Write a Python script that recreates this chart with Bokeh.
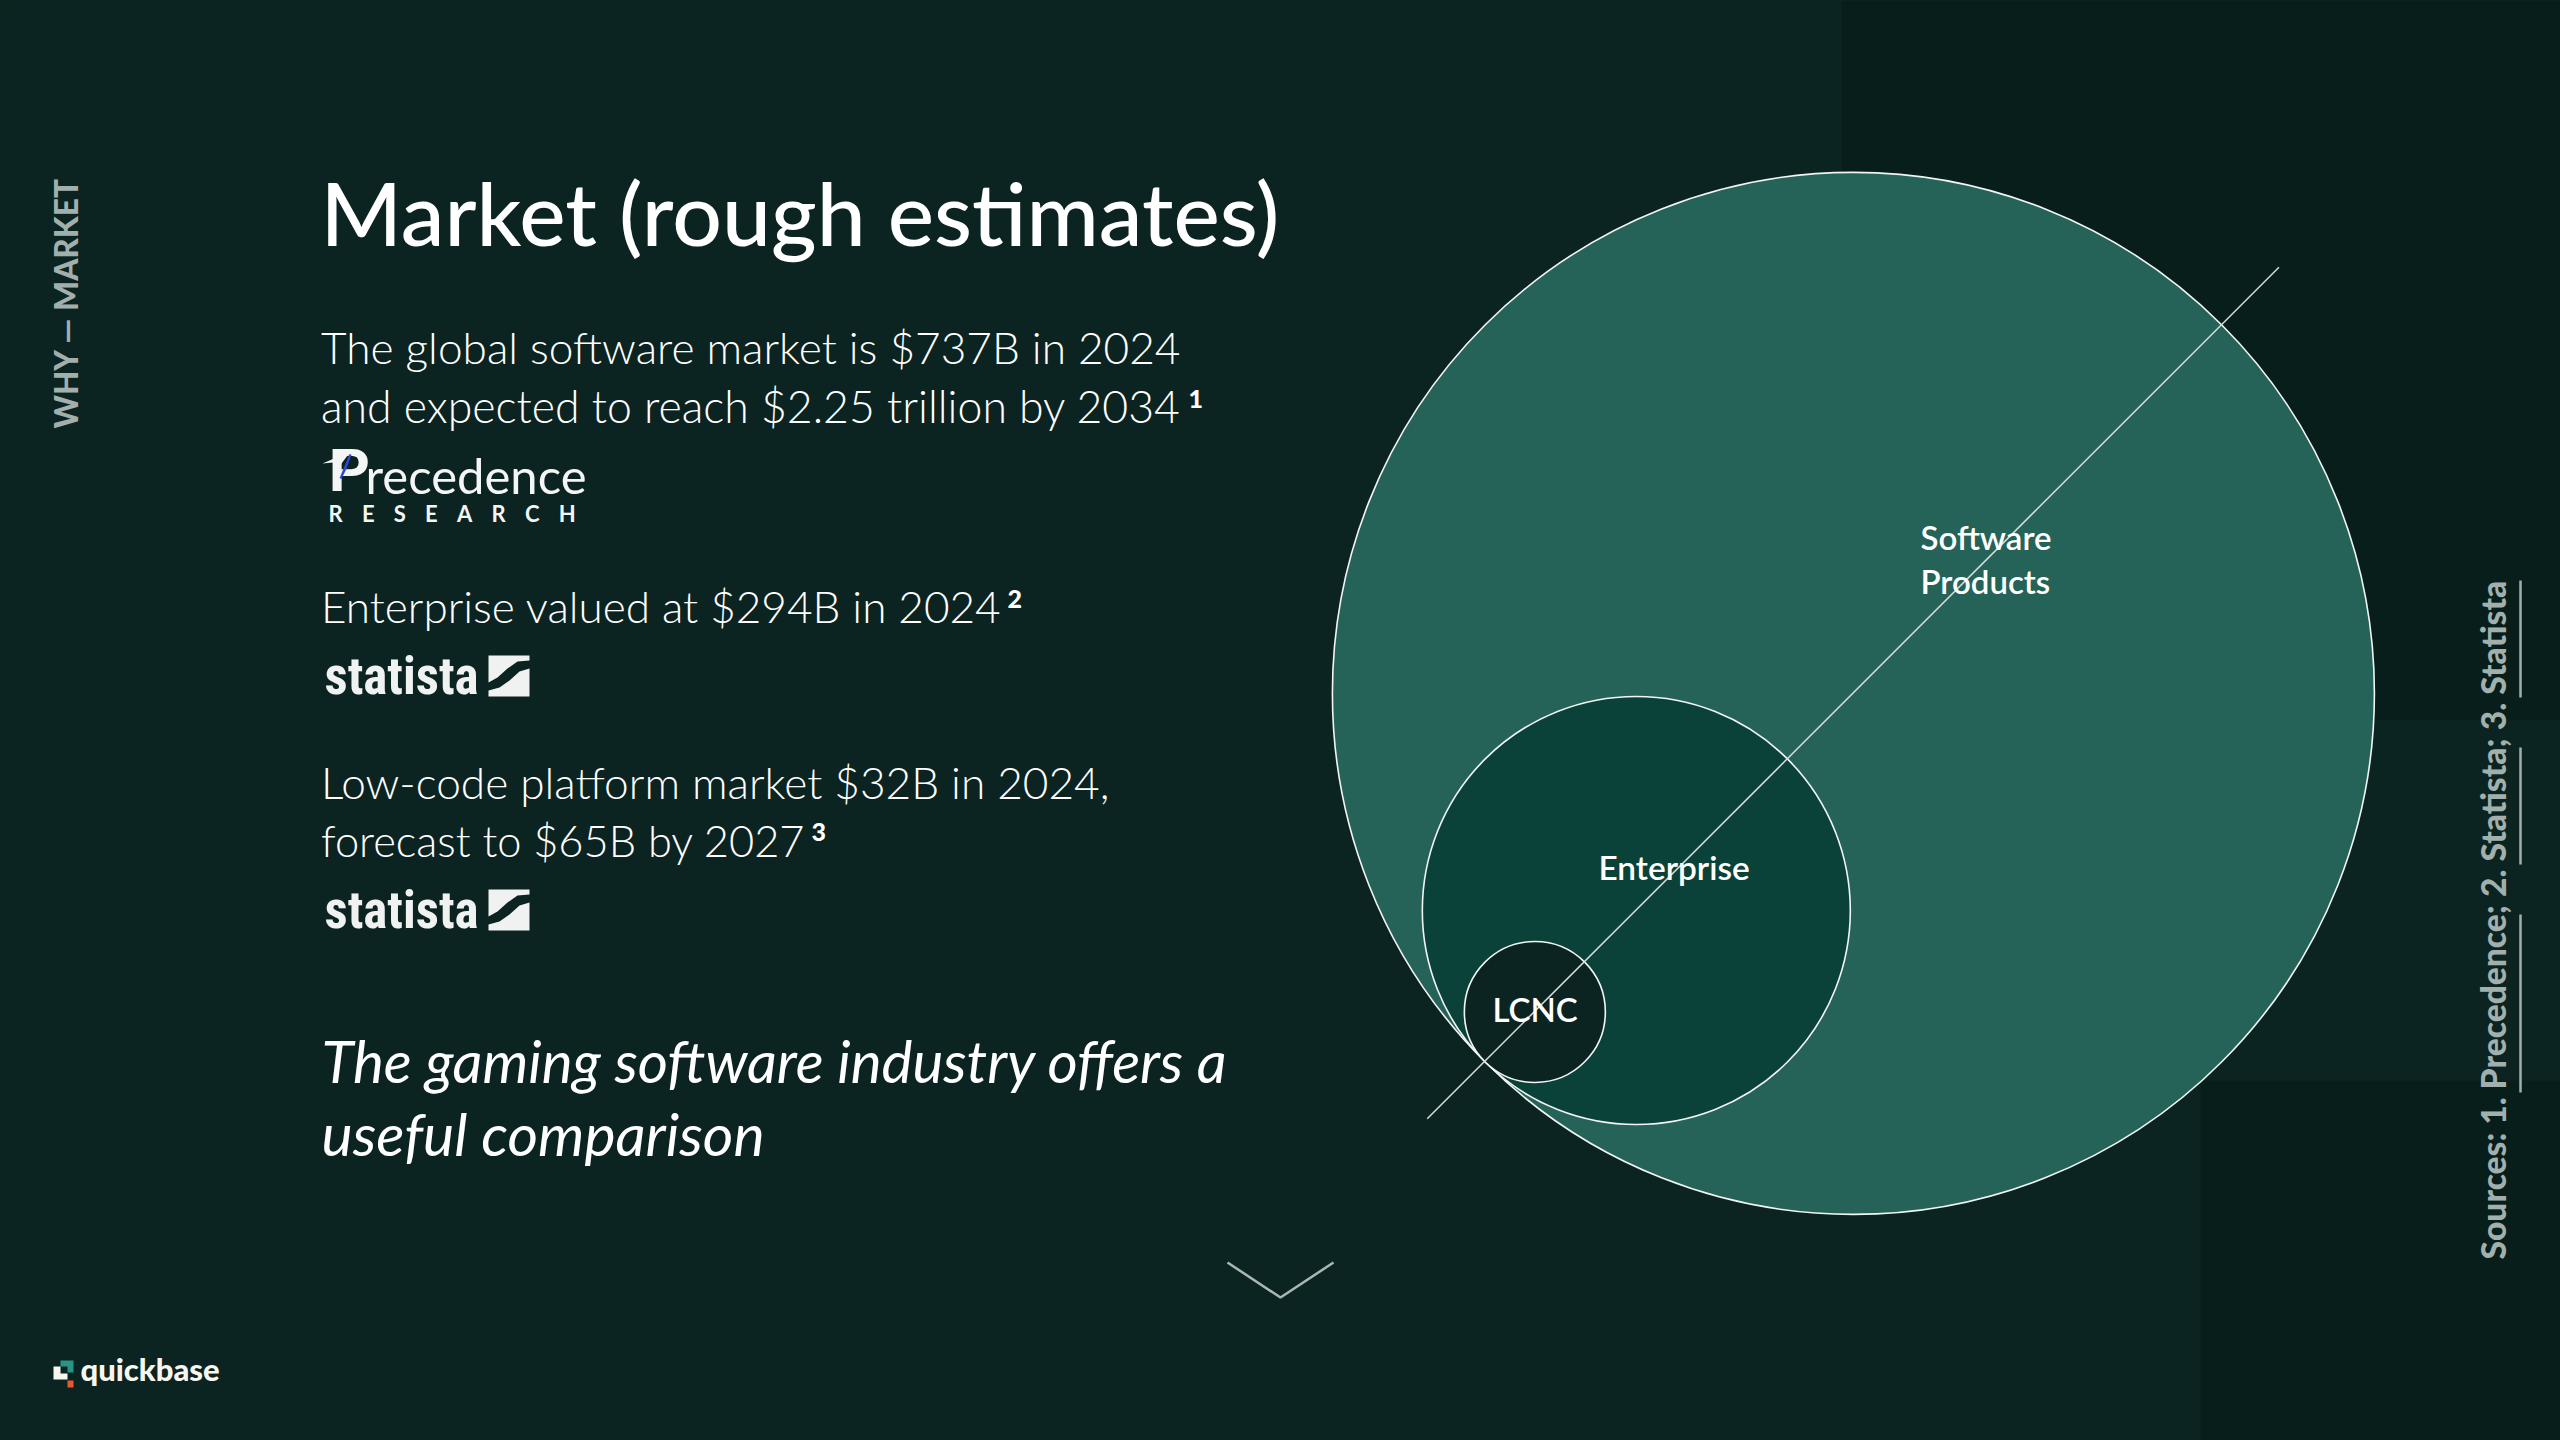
import math
from bokeh.plotting import figure
from bokeh.embed import file_html
from bokeh.resources import INLINE
from bokeh.models import GlobalInlineStyleSheet
from bokeh.core.properties import value

BASE = "#0c2421"
DARK = "#081e1b"
WHITE = "#ffffff"
GREY = "#a2b0ad"

# ---- data ----
title = "Market (rough estimates)"
body_lines = [
    "The global software market is $737B in 2024",
    "and expected to reach $2.25 trillion by 2034",
    "Enterprise valued at $294B in 2024",
    "Low-code platform market $32B in 2024,",
    "forecast to $65B by 2027",
]
body_baselines = [364, 422.5, 623, 799, 857]
body_sizes = [44.2, 44.6, 44.1, 44.2, 43.4]
footnotes = ["1", "2", "3"]
footnote_x = [1188, 1007, 811]
footnote_y = [408, 608, 841]
italic_lines = ["The gaming software industry offers a", "useful comparison"]
italic_baselines = [1083, 1157]
italic_sizes = [58.3, 58.9]
market_names = ["Software Products", "Enterprise", "LCNC"]
market_radius = [521, 214, 70.5]
market_fill = ["#256358", "#0a4239", "#0c2421"]
sources = "Sources: 1. Precedence; 2. Statista; 3. Statista"
source_links_start = [1092, 864, 697]
source_links_end = [914, 747, 580]
section = "WHY — MARKET"

W, H = 2560, 1440
p = figure(width=W, height=H, x_range=(0, W), y_range=(H, 0),
           output_backend="svg", toolbar_location=None, min_border=0,
           background_fill_color=BASE, border_fill_color=BASE, outline_line_color=None)
p.axis.visible = False
p.grid.visible = False
p.stylesheets = [GlobalInlineStyleSheet(css=f"html,body{{background:{BASE};overflow:hidden}}")]

# background panels
p.quad(left=[1841, 2200], right=[W, W], top=[0, 1080], bottom=[720, H], fill_color=DARK, line_color=None)

# nested circles, tangent at a common point on the diagonal
tx, ty = 1484.5, 1061.3
k = math.sqrt(0.5)
cx = [tx + r * k for r in market_radius]
cy = [ty - r * k for r in market_radius]
p.circle(cx, cy, radius=market_radius, fill_color=market_fill, line_color="#f2f5f4", line_width=1.6)
p.line([1426.7, 2278.5], [1118.3, 266.7], line_color="#d5dcda", line_width=1.5)


def txt(x, y, s, size, font, color=WHITE, style="normal", angle=0):
    # Bokeh's alphabetic anchor sits about 0.4 em above the true baseline
    off = 0.4 * size
    if angle:
        x -= off
    else:
        y -= off
    p.text([x], [y], text=[s], text_font=value(font), text_font_size=f"{size}px", text_color=color,
           text_font_style=style, angle=angle, text_align="left", text_baseline="alphabetic")


txt(320, 247, title, 87.5, "Lato Medium")
for s, b, z in zip(body_lines, body_baselines, body_sizes):
    txt(320.5, b, s, z, "Lato Light")
for s, x, y in zip(footnotes, footnote_x, footnote_y):
    txt(x, y, s, 25, "Lato Black")
for s, b, z in zip(italic_lines, italic_baselines, italic_sizes):
    txt(321, b, s, z, "Lato", style="italic")

# circle labels
txt(1920, 550, "Software", 33, "Lato Semibold")
txt(1920, 594, "Products", 33, "Lato Semibold")
txt(1598, 880, market_names[1], 33.4, "Lato Semibold")
txt(1492, 1022, market_names[2], 33, "Lato Semibold")

# vertical texts
txt(78, 428, section, 31.6, "Lato Heavy", GREY, angle=math.pi / 2)
txt(2506, 1259, sources, 33.6, "Lato Heavy", GREY, angle=math.pi / 2)
p.segment([2520] * 3, source_links_start, [2520] * 3, source_links_end, line_color=GREY, line_width=2.5)

# chevron
p.line([1227, 1280, 1333], [1262, 1297, 1262], line_color="#a9b8b4", line_width=2.5)

# Precedence logo
txt(328, 494, "P", 62, "Liberation Sans", "#f4f5f5", "bold")
p.patch([322, 350, 338, 332], [463, 451, 467, 462], fill_color="#f4f5f5", line_color=None)
p.patch([350, 345, 340], [454, 468, 478], fill_color="#2f46d6", line_color="#2f46d6", line_width=2)
txt(365, 494, "recedence", 49, "Lato", "#f4f5f5")
txt(328, 522, "R\u2003\u2009E\u2003\u2009S\u2003\u2009E\u2003\u2009A\u2003\u2009R\u2003\u2009C\u2003\u2009H", 22, "Lato", "#f4f5f5", "bold")

# Statista logos
for dy in (0, 234):
    txt(324, 696 + dy, "statista", 51, "Roboto Condensed", "#f0f1f1", "bold")
    p.patch([488, 529, 529, 517, 507, 497, 488], [y + dy for y in [655, 655, 660, 661, 668, 677, 682]],
            fill_color="#f0f1f1", line_color=None)
    p.patch([529, 529, 488, 488, 499, 509, 519], [y + dy for y in [668, 696, 696, 690, 687, 680, 671]],
            fill_color="#f0f1f1", line_color=None)

# quickbase logo
p.patch([60, 73, 73, 67, 67, 60], [1360, 1360, 1372, 1372, 1366, 1366], fill_color="#2a9484", line_color=None)
p.patch([53, 60, 60, 67, 67, 53], [1366, 1366, 1373, 1373, 1379, 1379], fill_color="#f7f6ef", line_color=None)
p.quad(left=[67], right=[73], top=[1380], bottom=[1387], fill_color="#e8582c", line_color=None)
txt(80, 1381, "quickbase", 31, "Lato Black", "#f7f6ef")

open("out.html", "w").write(file_html(p, INLINE))
